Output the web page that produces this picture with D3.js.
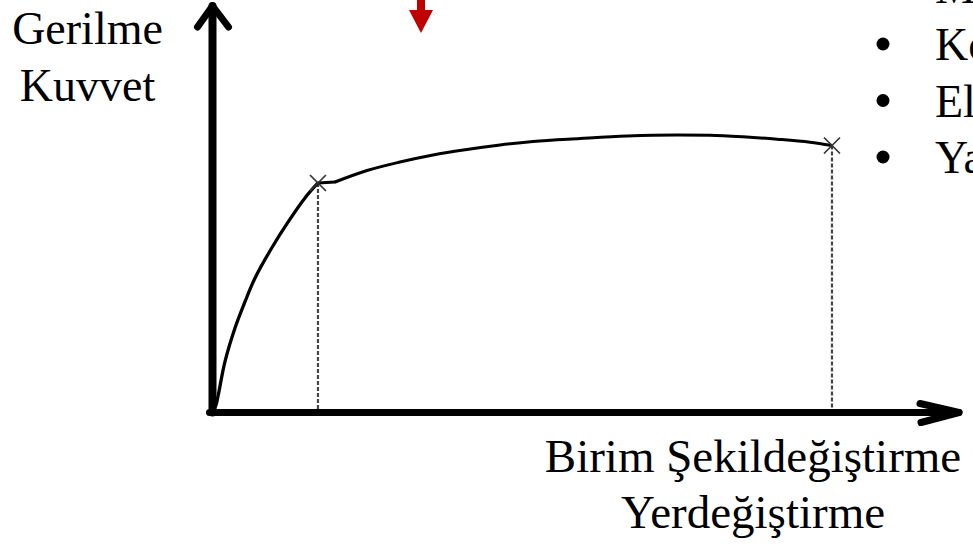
<!DOCTYPE html>
<html>
<head>
<meta charset="utf-8">
<script src="https://cdn.jsdelivr.net/npm/d3@7"></script>
<style>
html,body{margin:0;padding:0;background:#fff;overflow:hidden;}
svg{display:block;font-family:"Liberation Serif","Times New Roman",serif;}
</style>
</head>
<body>
<svg id="c" width="973" height="551"></svg>
<script>
// Data (strain in arbitrary units, stress in % of axis height)
const strain = [0, 0.033, 0.054, 0.117, 0.211, 0.305, 0.399, 0.555, 0.711, 0.867, 0.989,
  1.149, 1.449, 1.758, 2.068, 2.386, 2.696, 3.005, 3.446, 3.887, 4.356, 4.665, 4.975, 5.294, 5.603, 5.809];
const stress = [0, 1.85, 4.31, 12.5, 20.79, 27.26, 33.09, 40.47, 46.94, 52.77, 56.46,
  56.70, 59.53, 61.62, 63.35, 64.70, 65.81, 66.67, 67.40, 68.02, 68.27, 68.19, 67.82, 67.23, 66.47, 65.68];
const markerIdx = [10, 25]; // yield point, rupture point
const yLabels = ["Gerilme", "Kuvvet"];
const xLabels = ["Birim Şekildeğiştirme", "Yerdeğiştirme"];
const bulletHeader = "M";
const bullets = ["Ko", "El", "Ya"];

const svg = d3.select("#c");
const x = d3.scaleLinear().domain([0, 7]).range([212.5, 959]);
const y = d3.scaleLinear().domain([0, 100]).range([412.5, 6]);

const pts = strain.map((s, i) => [s, stress[i]]);

// dashed drop lines
markerIdx.forEach(i => {
  svg.append("line")
    .attr("x1", x(strain[i])).attr("x2", x(strain[i]))
    .attr("y1", y(stress[i])).attr("y2", y(0))
    .attr("stroke", "#444").attr("stroke-width", 2.2)
    .attr("stroke-dasharray", "4,2");
});

// axes
const ax = svg.append("g").attr("stroke", "#000").attr("fill", "none")
  .attr("stroke-linecap", "round").attr("stroke-linejoin", "round");
ax.append("line").attr("x1", x(0)).attr("y1", y(0)).attr("x2", x(0)).attr("y2", y(100))
  .attr("stroke-width", 8);
ax.append("line").attr("x1", x(0) - 3).attr("y1", y(0)).attr("x2", x(7)).attr("y2", y(0))
  .attr("stroke-width", 7);
// y arrow head
ax.append("path").attr("stroke-width", 7)
  .attr("d", `M${x(0) - 15},${y(100) + 21} L${x(0)},${y(100)} L${x(0) + 16},${y(100) + 21}`);
// x arrow head
ax.append("path").attr("stroke-width", 7)
  .attr("d", `M${x(7) - 39},${y(0) - 9} L${x(7)},${y(0)} L${x(7) - 38},${y(0) + 10}`);

// curve
const lineSmooth = d3.line().x(d => x(d[0])).y(d => y(d[1])).curve(d3.curveCatmullRom.alpha(0.5));
const line = d3.line().x(d => x(d[0])).y(d => y(d[1])).curve(d3.curveMonotoneX);
svg.append("path").datum(pts.slice(0, 11)).attr("d", lineSmooth)
  .attr("fill", "none").attr("stroke", "#000").attr("stroke-width", 3.3).attr("stroke-linejoin", "round");
svg.append("path").datum(pts.slice(10, 12)).attr("d", line)
  .attr("fill", "none").attr("stroke", "#000").attr("stroke-width", 3).attr("stroke-linecap", "round");
svg.append("path").datum(pts.slice(11)).attr("d", line)
  .attr("fill", "none").attr("stroke", "#000").attr("stroke-width", 3).attr("stroke-linejoin", "round");

// x markers
markerIdx.forEach(i => {
  const cx = x(strain[i]), cy = y(stress[i]), r = 8;
  svg.append("path")
    .attr("d", `M${cx - r},${cy - r}L${cx + r},${cy + r}M${cx - r},${cy + r}L${cx + r},${cy - r}`)
    .attr("stroke", "#333").attr("stroke-width", 1.7).attr("fill", "none");
});

// red arrow
svg.append("path")
  .attr("d", "M417,0 L425,0 L425,10 L433,10 L421,33 L409,10 L417,10 Z")
  .attr("fill", "#c00000");

// y labels
yLabels.forEach((t, i) => {
  svg.append("text").attr("x", 87.5).attr("y", 44 + i * 57)
    .attr("text-anchor", "middle").attr("font-size", 46).attr("fill", "#000").text(t);
});
// x labels
xLabels.forEach((t, i) => {
  svg.append("text").attr("x", 753).attr("y", 472 + i * 56)
    .attr("text-anchor", "middle").attr("font-size", 47).attr("fill", "#000").text(t);
});

// bullet list (cut at right edge, as in the reference)
svg.append("text").attr("x", 935).attr("y", 3).attr("font-size", 46).attr("fill", "#000").text(bulletHeader);
bullets.forEach((t, i) => {
  const by = 60 + i * 56.5;
  svg.append("circle").attr("cx", 883).attr("cy", by - 16).attr("r", 6.5).attr("fill", "#000");
  svg.append("text").attr("x", 935).attr("y", by).attr("font-size", 46).attr("fill", "#000").text(t);
});
</script>
</body>
</html>
